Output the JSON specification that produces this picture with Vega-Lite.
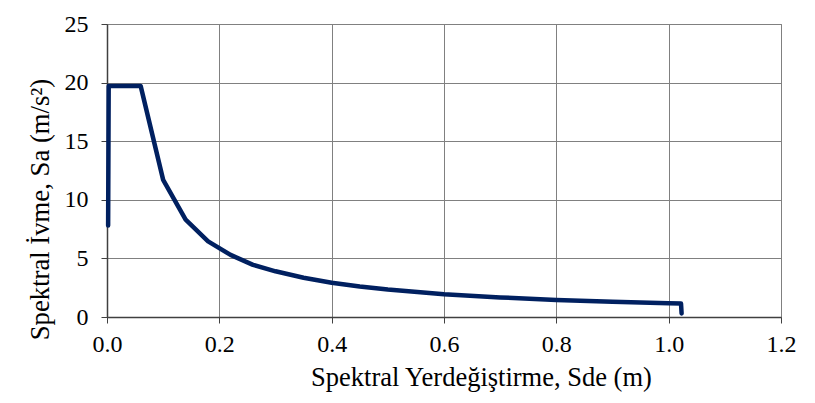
{
  "$schema": "https://vega.github.io/schema/vega-lite/v6.json",
  "width": 674,
  "height": 293,
  "autosize": "none",
  "padding": {"left": 107, "top": 24, "right": 34, "bottom": 86},
  "background": "white",
  "config": {
    "view": {"stroke": "#808080", "strokeWidth": 1},
    "font": "Liberation Serif",
    "axis": {
      "labelFont": "Liberation Serif",
      "titleFont": "Liberation Serif",
      "labelColor": "black",
      "titleColor": "black",
      "labelFontSize": 24,
      "titleFontSize": 26.5,
      "titleFontWeight": "normal",
      "labelFlush": false,
      "labelOverlap": false,
      "gridColor": "#808080",
      "gridWidth": 1,
      "gridOpacity": 1,
      "domainColor": "#404040",
      "domainWidth": 1.5,
      "tickColor": "#404040",
      "tickSize": 6,
      "tickWidth": 1
    }
  },
  "data": {
    "values": [
      {"sde": 0.002, "sa": 7.8},
      {"sde": 0.003, "sa": 19.7},
      {"sde": 0.06, "sa": 19.7},
      {"sde": 0.1, "sa": 11.7},
      {"sde": 0.14, "sa": 8.3},
      {"sde": 0.18, "sa": 6.45},
      {"sde": 0.22, "sa": 5.3},
      {"sde": 0.26, "sa": 4.45},
      {"sde": 0.3, "sa": 3.9},
      {"sde": 0.35, "sa": 3.35},
      {"sde": 0.4, "sa": 2.92},
      {"sde": 0.45, "sa": 2.6},
      {"sde": 0.5, "sa": 2.34},
      {"sde": 0.6, "sa": 1.95},
      {"sde": 0.7, "sa": 1.67},
      {"sde": 0.8, "sa": 1.46},
      {"sde": 0.9, "sa": 1.3},
      {"sde": 1.0, "sa": 1.17},
      {"sde": 1.022, "sa": 1.15},
      {"sde": 1.023, "sa": 0.3}
    ]
  },
  "mark": {"type": "line", "color": "#002060", "strokeWidth": 4.5, "strokeJoin": "round", "strokeCap": "round"},
  "encoding": {
    "x": {
      "field": "sde", "type": "quantitative",
      "scale": {"domain": [0, 1.2], "nice": false, "zero": false},
      "axis": {"values": [0, 0.2, 0.4, 0.6, 0.8, 1.0, 1.2], "format": ".1f", "title": "Spektral Yerdeğiştirme, Sde (m)", "labelPadding": 9, "titleX": 374, "titleY": 68, "titleAlign": "center", "titleBaseline": "alphabetic"}
    },
    "y": {
      "field": "sa", "type": "quantitative",
      "scale": {"domain": [0, 25], "nice": false},
      "axis": {"values": [0, 5, 10, 15, 20, 25], "title": "Spektral İvme, Sa (m/s²)", "labelPadding": 13, "titleX": -59, "titleY": 185, "titleAlign": "center", "titleAngle": -90, "titleBaseline": "alphabetic", "titleFontSize": 26.7}
    },
    "order": {"field": "sde", "type": "quantitative"}
  }
}
